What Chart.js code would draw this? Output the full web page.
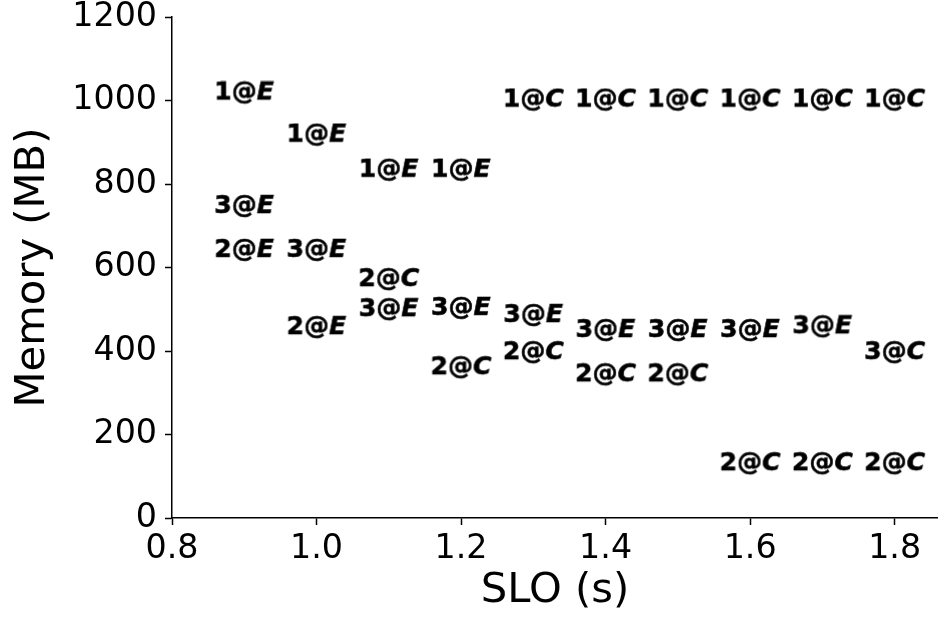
<!DOCTYPE html>
<html>
<head>
<meta charset="utf-8">
<script src="https://cdn.jsdelivr.net/npm/chart.js@4/dist/chart.umd.min.js"></script>
<style>
  body { margin: 0; background: #fff; }
</style>
</head>
<body>
<canvas id="chart" width="938" height="622"></canvas>
<script>
// SLO values (x) shared by all three series
const slo = [0.9, 1.0, 1.1, 1.2, 1.3, 1.4, 1.5, 1.6, 1.7, 1.8];

// memory per configuration count, and the E / C tag shown after the @
const mem1 = [1018, 917, 833, 833, 1001, 1001, 1001, 1001, 1001, 1001];
const tag1 = ['E', 'E', 'E', 'E', 'C', 'C', 'C', 'C', 'C', 'C'];
const mem2 = [641, 456, 571, 360, 396, 343, 343, 130, 130, 130];
const tag2 = ['E', 'E', 'C', 'C', 'C', 'C', 'C', 'C', 'C', 'C'];
const mem3 = [746, 641, 499, 502, 485, 449, 449, 449, 458, 396];
const tag3 = ['E', 'E', 'E', 'E', 'E', 'E', 'E', 'E', 'E', 'C'];

const xTicks = [0.8, 1.0, 1.2, 1.4, 1.6, 1.8];
const yTicks = [0, 200, 400, 600, 800, 1000, 1200];

const FONT = "'DejaVu Sans', sans-serif";

// build a small canvas with "n@X" text, used as the point style
const markerCache = {};
function marker(n, tag) {
  const key = n + tag;
  if (markerCache[key]) return markerCache[key];
  const size = 25;
  const head = n + '@';
  const c = document.createElement('canvas');
  const m = c.getContext('2d');
  m.font = `bold ${size}px ${FONT}`;
  const wHead = m.measureText(head).width;
  m.font = `italic bold ${size}px ${FONT}`;
  const tm = m.measureText(tag);
  const wTag = tm.width;
  const asc = tm.actualBoundingBoxAscent;
  const desc = 5;
  c.width = Math.ceil(wHead + wTag + 2);
  c.height = Math.ceil(asc + desc + 2);
  const ctx = c.getContext('2d');
  ctx.fillStyle = '#000';
  ctx.strokeStyle = '#000';
  ctx.lineWidth = 0.6;
  ctx.textBaseline = 'alphabetic';
  ctx.font = `bold ${size}px ${FONT}`;
  ctx.fillText(head, 1, asc + 1);
  ctx.strokeText(head, 1, asc + 1);
  ctx.font = `italic bold ${size}px ${FONT}`;
  ctx.fillText(tag, 1 + wHead, asc + 1);
  ctx.strokeText(tag, 1 + wHead, asc + 1);
  markerCache[key] = c;
  return c;
}

function series(n, mem, tags) {
  return {
    label: String(n),
    data: slo.map((x, i) => ({ x: x, y: mem[i] })),
    pointStyle: (ctx) => marker(n, tags[ctx.dataIndex]),
    pointRadius: 10,
    pointHoverRadius: 10,
    showLine: false,
  };
}

const tickFont = { family: FONT, size: 33.3 };
const titleFont = { family: FONT, size: 41.7 };

new Chart(document.getElementById('chart'), {
  type: 'scatter',
  data: {
    datasets: [series(1, mem1, tag1), series(2, mem2, tag2), series(3, mem3, tag3)],
  },
  options: {
    responsive: false,
    animation: false,
    clip: false,
    layout: { autoPadding: false, padding: { top: 17, right: 0, bottom: 0, left: 0 } },
    plugins: { legend: { display: false }, tooltip: { enabled: false } },
    scales: {
      x: {
        type: 'linear',
        min: 0.8,
        max: 1.86,
        afterBuildTicks: (axis) => { axis.ticks = xTicks.map(v => ({ value: v })); },
        afterFit: (axis) => { axis.height = 104; axis.paddingLeft = 0; axis.paddingRight = 0; },
        grid: { drawOnChartArea: false, drawTicks: true, tickLength: 7, tickWidth: 1.5, color: '#000' },
        border: { display: true, color: '#000', width: 1.5 },
        ticks: { color: '#000', font: tickFont, padding: 4, maxRotation: 0,
                 callback: (v) => v.toFixed(1) },
        title: { display: true, text: 'SLO (s)', color: '#000', font: titleFont,
                 padding: { top: 0, bottom: 6 } },
      },
      y: {
        type: 'linear',
        min: 0,
        max: 1200,
        afterBuildTicks: (axis) => { axis.ticks = yTicks.map(v => ({ value: v })); },
        afterFit: (axis) => { axis.width = 172; axis.paddingTop = 0; axis.paddingBottom = 0; },
        grid: { drawOnChartArea: false, drawTicks: true, tickLength: 7, tickWidth: 1.5, color: '#000' },
        border: { display: true, color: '#000', width: 1.5 },
        ticks: { color: '#000', font: tickFont, padding: 8, callback: (v) => String(v) },
        title: { display: true, text: 'Memory (MB)', color: '#000', font: titleFont,
                 padding: 8 },
      },
    },
  },
});
</script>
</body>
</html>
